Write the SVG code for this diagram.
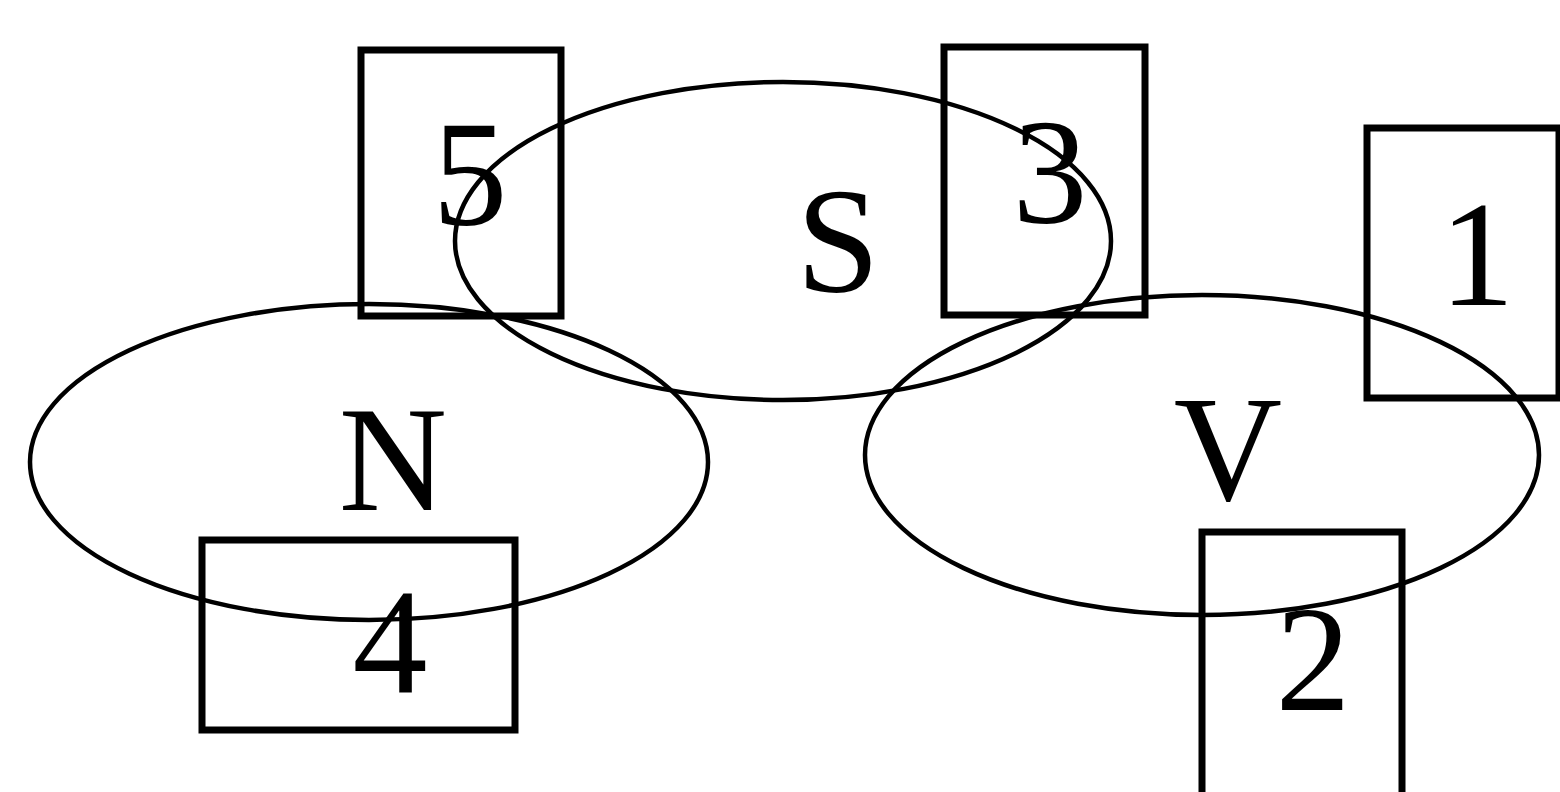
<svg xmlns="http://www.w3.org/2000/svg" width="1560" height="792" viewBox="0 0 1560 792">
<style>
.ell{fill:none;stroke:#000;stroke-width:4.5}
.box{fill:none;stroke:#000;stroke-width:7}
.lbl{font-family:'Times New Roman','Liberation Serif',Times,Tinos,'Nimbus Roman',serif;font-size:150px;fill:#000;text-anchor:middle}
</style>
<rect width="1560" height="792" fill="#fff"/>
<g id="S"><ellipse class="ell" cx="783" cy="241" rx="328" ry="159"/><text class="lbl" x="838" y="292">S</text></g>
<g id="N"><ellipse class="ell" cx="369" cy="462" rx="339" ry="158"/><text class="lbl" x="393" y="510">N</text></g>
<g id="V"><ellipse class="ell" cx="1202" cy="455" rx="337" ry="160"/><text class="lbl" x="1228" y="500">V</text></g>
<g id="box5"><rect class="box" x="361" y="50" width="200" height="266"/><text class="lbl" x="470" y="225">5</text></g>
<g id="box3"><rect class="box" x="944" y="47" width="201" height="268"/><text class="lbl" x="1050" y="223">3</text></g>
<g id="box1"><rect class="box" x="1367" y="128" width="192" height="270"/><text class="lbl" x="1477" y="305">1</text></g>
<g id="box4"><rect class="box" x="202" y="540" width="313" height="190"/><text class="lbl" x="390" y="693">4</text></g>
<g id="box2"><rect class="box" x="1202" y="532" width="200" height="300"/><text class="lbl" x="1313" y="710">2</text></g>
</svg>
